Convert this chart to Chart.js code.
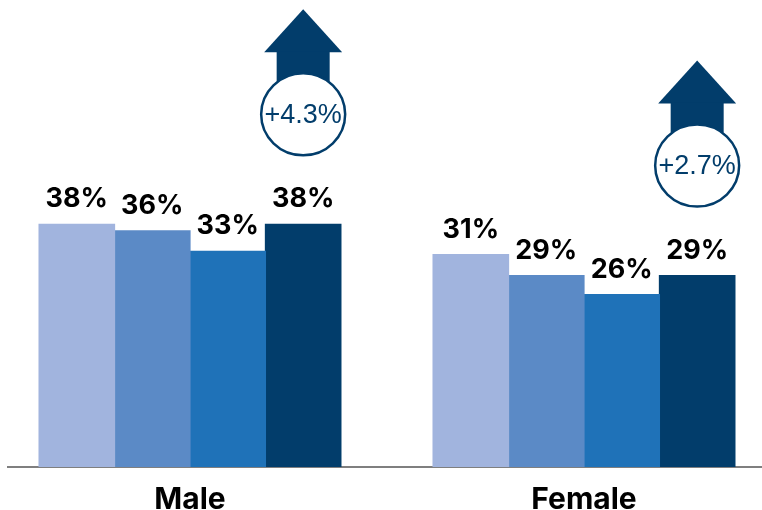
<!DOCTYPE html>
<html lang="en">
<head>
    <meta charset="UTF-8">
    <title>Male vs Female</title>
    <script src="https://cdn.jsdelivr.net/npm/chart.js"></script>
    <style>
        html, body {
            margin: 0;
            padding: 0;
            background: #ffffff;
            overflow: hidden;
        }
        .container {
            width: 762px;
            height: 510px;
        }
    </style>
</head>
<body>
    <div class="container">
        <canvas id="genderChart" width="762" height="510"></canvas>
    </div>

    <script>
        // Categories on the x axis
        const categories = ['Male', 'Female'];
        const seriesNames = ['Period 1', 'Period 2', 'Period 3', 'Period 4'];

        // Bar heights in %: [Male, Female]
        const series1 = [36.9, 32.3];
        const series2 = [35.9, 29.1];
        const series3 = [32.8, 26.2];
        const series4 = [36.9, 29.1];

        // Value labels printed above the bars
        const labels1 = ['38%', '31%'];
        const labels2 = ['36%', '29%'];
        const labels3 = ['33%', '26%'];
        const labels4 = ['38%', '29%'];

        // Change badges drawn above the last bar of each group
        const changeLabels = ['+4.3%', '+2.7%'];

        const barColors = ['#a1b4de', '#5b8ac6', '#1f72b8', '#023d6b'];
        const navy = '#023d6b';

        const seriesData = [series1, series2, series3, series4];
        const seriesLabels = [labels1, labels2, labels3, labels4];

        // Percent labels above each bar
        const barLabels = {
            id: 'barLabels',
            afterDatasetsDraw(chart) {
                const ctx = chart.ctx;
                ctx.save();
                ctx.font = 'bold 27px Inter';
                ctx.fillStyle = '#000000';
                ctx.textAlign = 'center';
                ctx.textBaseline = 'alphabetic';
                chart.data.datasets.forEach((ds, i) => {
                    chart.getDatasetMeta(i).data.forEach((bar, j) => {
                        ctx.fillText(seriesLabels[i][j], bar.x, bar.y - 17);
                    });
                });
                ctx.restore();
            }
        };

        // Up arrow + circled change value
        const changeBadges = {
            id: 'changeBadges',
            afterDatasetsDraw(chart) {
                const ctx = chart.ctx;
                const meta = chart.getDatasetMeta(3);
                ctx.save();
                meta.data.forEach((bar, j) => {
                    const cx = bar.x;
                    const cy = bar.y - 110;

                    ctx.fillStyle = navy;
                    ctx.beginPath();
                    ctx.moveTo(cx - 39, cy - 62);
                    ctx.lineTo(cx, cy - 105);
                    ctx.lineTo(cx + 39, cy - 62);
                    ctx.closePath();
                    ctx.fill();
                    ctx.fillRect(cx - 26.5, cy - 63, 53, 30);

                    ctx.beginPath();
                    ctx.ellipse(cx, cy, 42, 41, 0, 0, Math.PI * 2);
                    ctx.fillStyle = '#ffffff';
                    ctx.fill();
                    ctx.lineWidth = 2.5;
                    ctx.strokeStyle = navy;
                    ctx.stroke();

                    ctx.fillStyle = navy;
                    ctx.font = '27px "Liberation Sans"';
                    ctx.textAlign = 'center';
                    ctx.textBaseline = 'middle';
                    ctx.fillText(changeLabels[j], cx, cy + 1);
                });
                ctx.restore();
            }
        };

        const ctx = document.getElementById('genderChart').getContext('2d');

        new Chart(ctx, {
            type: 'bar',
            data: {
                datasets: seriesData.map((values, i) => ({
                    label: seriesNames[i],
                    data: values.map((v, k) => ({ x: k, y: v })),
                    backgroundColor: barColors[i],
                    borderWidth: 0,
                    inflateAmount: 0.6,
                    categoryPercentage: 0.766,
                    barPercentage: 1.0
                }))
            },
            options: {
                responsive: false,
                animation: false,
                layout: {
                    padding: { left: 8, right: 0, top: 0, bottom: 0 }
                },
                plugins: {
                    legend: { display: false },
                    tooltip: { enabled: false }
                },
                scales: {
                    x: {
                        type: 'linear',
                        offset: false,
                        min: -0.4619,
                        max: 1.4518,
                        grid: { display: false, drawTicks: false, offset: false },
                        border: { display: true, color: '#7f7f7f', width: 2 },
                        ticks: {
                            color: '#000000',
                            padding: 15,
                            font: { family: 'Inter', weight: 'bold', size: 30 },
                            callback: (value) => categories[value]
                        },
                        afterBuildTicks: (scale) => {
                            scale.ticks = categories.map((c, i) => ({ value: i }));
                        },
                        afterFit: (scale) => {
                            scale.height = 43;
                        }
                    },
                    y: {
                        display: false,
                        min: 0,
                        max: 71
                    }
                }
            },
            plugins: [barLabels, changeBadges]
        });
    </script>
</body>
</html>
